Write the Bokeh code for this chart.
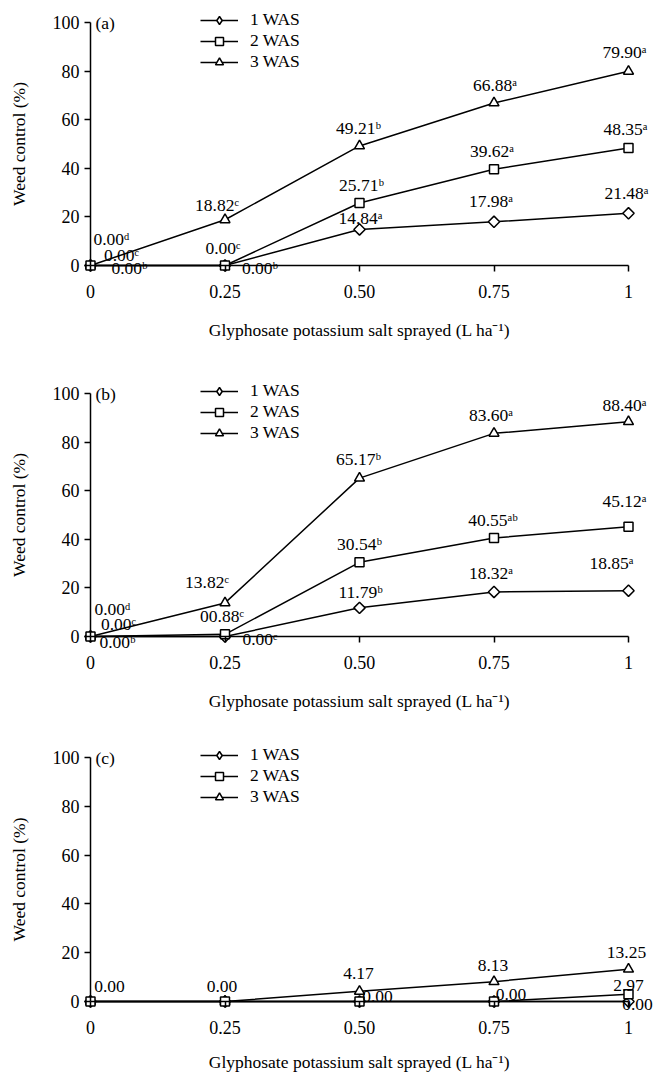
from bokeh.plotting import figure
from bokeh.layouts import column
from bokeh.models import (Legend, LegendItem, Label, ColumnDataSource, FixedTicker,
                          Range1d, CustomJSTickFormatter)
from bokeh.core.properties import value
from bokeh.embed import file_html
from bokeh.resources import INLINE

# ---------------- data ----------------
doses = [0, 0.25, 0.5, 0.75, 1]
dose_labels = ["0", "0.25", "0.50", "0.75", "1"]
series_names = ["1 WAS", "2 WAS", "3 WAS"]
panel_tags = ["(a)", "(b)", "(c)"]
y_ticks = [0, 20, 40, 60, 80, 100]

a_was1 = [0.00, 0.00, 14.84, 17.98, 21.48]
a_was2 = [0.00, 0.00, 25.71, 39.62, 48.35]
a_was3 = [0.00, 18.82, 49.21, 66.88, 79.90]
a_lbl1 = ["0.00ᵇ", "0.00ᵇ", "14.84ᵃ", "17.98ᵃ", "21.48ᵃ"]
a_lbl2 = ["0.00ᶜ", "0.00ᶜ", "25.71ᵇ", "39.62ᵃ", "48.35ᵃ"]
a_lbl3 = ["0.00ᵈ", "18.82ᶜ", "49.21ᵇ", "66.88ᵃ", "79.90ᵃ"]

b_was1 = [0.00, 0.00, 11.79, 18.32, 18.85]
b_was2 = [0.00, 0.88, 30.54, 40.55, 45.12]
b_was3 = [0.00, 13.82, 65.17, 83.60, 88.40]
b_lbl1 = ["0.00ᵇ", "0.00ᶜ", "11.79ᵇ", "18.32ᵃ", "18.85ᵃ"]
b_lbl2 = ["0.00ᶜ", "00.88ᶜ", "30.54ᵇ", "40.55ᵃᵇ", "45.12ᵃ"]
b_lbl3 = ["0.00ᵈ", "13.82ᶜ", "65.17ᵇ", "83.60ᵃ", "88.40ᵃ"]

c_was1 = [0.00, 0.00, 0.00, 0.00, 0.00]
c_was2 = [0.00, 0.00, 0.00, 0.00, 2.97]
c_was3 = [0.00, 0.00, 4.17, 8.13, 13.25]
c_lbl1 = ["", "", "", "", "0.00"]
c_lbl2 = ["", "", "0.00", "0.00", "2.97"]
c_lbl3 = ["0.00", "0.00", "4.17", "8.13", "13.25"]

# ---------------- label offsets (style, pixels) ----------------
a_off1 = ([39, 35, 1, -3, -2], [2, 2, -11, -21, -20])
a_off2 = ([31, -2, 2, -2, -3], [-11, -18, -18, -18, -19])
a_off3 = ([21, -8, -1, 1, -4], [-27, -15, -18, -18, -19])

b_off1 = ([27, 35, 1, -3, -17], [5, 2, -16, -19, -28])
b_off2 = ([28, -3, 0, -1, -4], [-13, -18, -18, -18, -26])
b_off3 = ([22, -18, -1, -3, -4], [-28, -21, -19, -18, -17])

c_off1 = ([0, 0, 0, 0, 9], [0, 0, 0, 0, 3])
c_off2 = ([0, 0, 18, 17, 0], [0, 0, -5, -7, -9])
c_off3 = ([19, -3, -1, -1, -2], [-15, -15, -18, -16, -17])

FONT = "'Liberation Serif', 'Times New Roman', serif"
FS_TEXT = "17.5px"
FS_TICK = "18px"
# plot markers: (marker, size, angle); legend markers drawn by Bokeh at fixed size
markers = {"1 WAS": ("square", 8, 0.785398), "2 WAS": ("square", 9, 0.0), "3 WAS": ("triangle", 10, 0.0)}
legend_markers = {"1 WAS": "diamond", "2 WAS": "square", "3 WAS": "triangle"}

W = 654
X0_PX, X1_PX = 90.0, 628.0          # pixel positions of dose 0 and 1


def make_panel(tag, vals, lbls, offs, height, y100_px, y0_px, title_standoff, legend_top):
    ppu_x = (X1_PX - X0_PX) / 1.0
    ppu_y = (y0_px - y100_px) / 100.0
    xr = Range1d(-X0_PX / ppu_x, 1 + (W - X1_PX) / ppu_x)
    yr = Range1d(-(height - y0_px) / ppu_y, 100 + y100_px / ppu_y)
    p = figure(width=W, height=height, x_range=xr, y_range=yr,
               output_backend="svg", toolbar_location=None,
               min_border_left=0, min_border_right=0,
               min_border_top=0, min_border_bottom=0)
    p.xgrid.visible = False
    p.ygrid.visible = False
    p.outline_line_color = None
    p.background_fill_color = None
    p.border_fill_color = "white"

    for ax in (p.xaxis[0], p.yaxis[0]):
        ax.fixed_location = 0
        ax.axis_line_color = "black"
        ax.axis_line_width = 1.5
        ax.major_tick_line_color = "black"
        ax.major_tick_line_width = 1.5
        ax.major_tick_out = 6
        ax.major_tick_in = 0
        ax.minor_tick_out = 0
        ax.minor_tick_in = 0
        ax.major_label_text_font = FONT
        ax.major_label_text_font_size = FS_TICK
        ax.major_label_text_color = "black"
        ax.axis_label_text_font = FONT
        ax.axis_label_text_font_size = FS_TEXT
        ax.axis_label_text_font_style = "normal"
        ax.axis_label_text_color = "black"

    p.xaxis.bounds = (0, 1)
    p.yaxis.bounds = (0, 100)
    p.xaxis.ticker = FixedTicker(ticks=doses)
    p.yaxis.ticker = FixedTicker(ticks=y_ticks)
    p.xaxis.formatter = CustomJSTickFormatter(
        args=dict(dvals=doses, dlabs=dose_labels),
        code="const i = dvals.indexOf(tick); return i >= 0 ? dlabs[i] : '';")
    p.xaxis.major_label_standoff = 13
    p.yaxis.major_label_standoff = 5
    p.xaxis.axis_label = "Glyphosate potassium salt sprayed (L ha⁻¹)"
    p.yaxis.axis_label = "Weed control (%)"
    p.xaxis.axis_label_standoff = title_standoff
    p.yaxis.axis_label_standoff = 21

    renderers = {}
    order = [2, 0, 1]
    for i in order:
        name = series_names[i]
        src = ColumnDataSource(dict(x=doses, y=vals[i], lbl=lbls[i],
                                    dx=offs[i][0], dy=offs[i][1]))
        lr = p.line("x", "y", source=src, line_color="black", line_width=1.5)
        mk, sz, ang = markers[name]
        p.scatter("x", "y", source=src, marker=mk, size=sz, angle=ang,
                  fill_color="white", line_color="black", line_width=1.5)
        # legend-only glyph (size 0 in the plot; the legend draws it at its own size)
        gr = p.scatter("x", "y", source=src, marker=legend_markers[name], size=0,
                       fill_color="white", line_color="black", line_width=1.5)
        renderers[i] = (lr, gr, src)
    for i in order:
        src = renderers[i][2]
        p.text("x", "y", text="lbl", source=src, x_offset="dx", y_offset="dy",
               text_align="center", text_baseline="middle",
               text_font=value(FONT), text_font_size=FS_TEXT, text_color="black")
    items = []
    for i in range(3):
        lr, gr, _ = renderers[i]
        items.append(LegendItem(label=series_names[i], renderers=[lr, gr]))

    legend = Legend(items=items, location=(200, height - legend_top - 60), orientation="vertical",
                    glyph_width=38, glyph_height=20, label_height=20, spacing=0,
                    padding=0, margin=0, border_line_color=None,
                    background_fill_alpha=0, label_text_font=FONT,
                    label_text_font_size=FS_TEXT, label_text_color="black",
                    label_standoff=12)
    p.add_layout(legend)

    p.add_layout(Label(x=0, y=100, text=tag, x_offset=5, text_baseline="middle",
                       text_font=FONT, text_font_size=FS_TEXT, text_color="black"))
    return p


pa = make_panel(panel_tags[0], [a_was1, a_was2, a_was3], [a_lbl1, a_lbl2, a_lbl3],
                [a_off1, a_off2, a_off3], 378, 22, 265, 19, 12)
pb = make_panel(panel_tags[1], [b_was1, b_was2, b_was3], [b_lbl1, b_lbl2, b_lbl3],
                [b_off1, b_off2, b_off3], 365, 15, 258, 19, 5)
pc = make_panel(panel_tags[2], [c_was1, c_was2, c_was3], [c_lbl1, c_lbl2, c_lbl3],
                [c_off1, c_off2, c_off3], 329, 14, 258, 15, 4)

layout = column(pa, pb, pc, spacing=0)
open("out.html", "w").write(file_html(layout, INLINE))
